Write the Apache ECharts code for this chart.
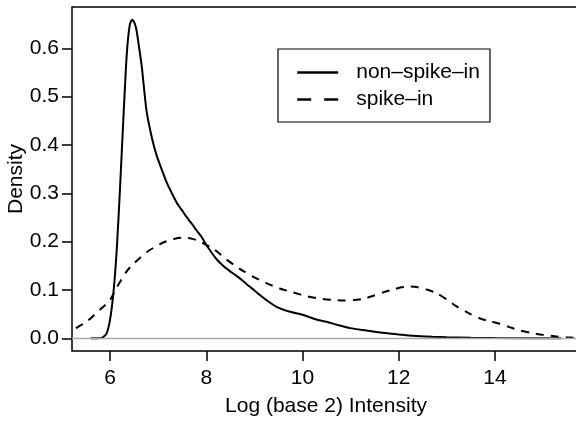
<!DOCTYPE html>
<html>
<head>
<meta charset="utf-8">
<script src="https://cdn.jsdelivr.net/npm/echarts@6/dist/echarts.min.js"></script>
<style>html,body{margin:0;padding:0;background:#fff}#chart{width:576px;height:424px}</style>
</head>
<body>
<div id="chart"></div>
<script>
// Data
var xTicks = [6, 8, 10, 12, 14];
var yTicks = [0, 0.1, 0.2, 0.3, 0.4, 0.5, 0.6];
var seriesNames = ['non\u2013spike\u2013in', 'spike\u2013in'];

var nonSpikeX = [5.60,5.75,5.85,5.93,6.00,6.07,6.14,6.21,6.28,6.35,6.41,6.46,6.51,6.55,6.60,6.66,6.76,6.87,6.97,7.08,7.18,7.29,7.39,7.50,7.59,7.70,7.80,7.90,8.01,8.12,8.22,8.35,8.49,8.63,8.77,8.90,9.00,9.12,9.25,9.46,9.70,10.02,10.25,10.50,10.75,10.99,11.33,11.61,12.00,12.30,12.70,13.00,13.50,14.00,15.37];
var nonSpikeY = [0.000,0.000,0.002,0.010,0.038,0.093,0.183,0.314,0.459,0.590,0.648,0.659,0.652,0.638,0.605,0.562,0.470,0.415,0.378,0.348,0.322,0.299,0.280,0.264,0.251,0.237,0.223,0.210,0.192,0.176,0.163,0.150,0.139,0.129,0.118,0.107,0.099,0.089,0.079,0.065,0.056,0.048,0.040,0.034,0.027,0.021,0.016,0.012,0.008,0.005,0.003,0.002,0.001,0.0005,0.000];

var spikeX = [5.00,5.21,5.36,5.51,5.65,5.79,5.90,6.00,6.14,6.35,6.50,6.62,6.76,6.90,7.04,7.18,7.35,7.52,7.66,7.80,7.97,8.15,8.30,8.42,8.56,8.77,8.98,9.25,9.53,9.80,10.09,10.36,10.64,10.85,11.06,11.27,11.47,11.68,11.89,12.03,12.20,12.37,12.58,12.79,13.00,13.20,13.45,13.69,13.90,14.10,14.30,14.52,14.75,15.00,15.25,15.49,15.80];
var spikeY = [0.010,0.017,0.025,0.034,0.046,0.059,0.069,0.079,0.105,0.139,0.155,0.166,0.178,0.187,0.195,0.201,0.206,0.208,0.207,0.203,0.195,0.185,0.173,0.163,0.153,0.139,0.127,0.114,0.103,0.095,0.087,0.082,0.079,0.078,0.079,0.082,0.088,0.095,0.101,0.105,0.107,0.106,0.101,0.093,0.080,0.066,0.052,0.041,0.035,0.030,0.023,0.016,0.011,0.007,0.004,0.002,0.0005];

function pairs(xs, ys) { return xs.map(function (x, i) { return [x, ys[i]]; }); }

var FONT = 'Liberation Sans, Arial, Helvetica, sans-serif';
var FS = 21;
var hiddenSymbol = {color: 'rgba(0,0,0,0)', borderWidth: 0, opacity: 0};

var chart = echarts.init(document.getElementById('chart'), null, {renderer: 'canvas'});
chart.setOption({
  animation: false,
  backgroundColor: '#fff',
  textStyle: {fontFamily: FONT},
  grid: {left: 72, top: 7, right: -4, bottom: 73, containLabel: false, outerBoundsMode: 'none',
    show: true, borderColor: '#000', borderWidth: 1.5, backgroundColor: 'transparent'},
  legend: {
    left: 278, top: 49,
    orient: 'vertical',
    borderColor: '#000', borderWidth: 1.2,
    padding: [13, 10, 12, 18],
    itemGap: 6,
    itemWidth: 41, itemHeight: 20,
    textStyle: {fontSize: FS, color: '#000', fontFamily: FONT, padding: [0, 0, 0, 13], lineHeight: 21},
    data: [
      {name: seriesNames[0], itemStyle: hiddenSymbol, lineStyle: {type: 'solid', width: 2.4, color: '#000'}},
      {name: seriesNames[1], itemStyle: hiddenSymbol, lineStyle: {type: [14, 13], width: 2.4, color: '#000'}}
    ]
  },
  xAxis: {
    type: 'value', min: 5.2105, max: 15.765,
    name: 'Log (base 2) Intensity', nameLocation: 'middle', nameGap: 45, nameMoveOverlap: false,
    nameTextStyle: {fontSize: FS, color: '#000', fontFamily: FONT},
    axisLine: {show: false, onZero: false},
    axisTick: {show: true, inside: false, length: 10, customValues: xTicks, lineStyle: {color: '#000', width: 1.5}},
    axisLabel: {show: true, customValues: xTicks, fontSize: FS, color: '#000', margin: 17, fontFamily: FONT},
    splitLine: {show: false}
  },
  yAxis: {
    type: 'value', min: -0.02636, max: 0.6855,
    name: 'Density', nameLocation: 'middle', nameGap: 45, nameMoveOverlap: false,
    nameTextStyle: {fontSize: FS, color: '#000', fontFamily: FONT},
    axisLine: {show: false, onZero: false},
    axisTick: {show: true, inside: false, length: 10, customValues: yTicks, lineStyle: {color: '#000', width: 1.5}},
    axisLabel: {show: true, customValues: yTicks, fontSize: FS, color: '#000', margin: 13, fontFamily: FONT,
      formatter: function (v) { return v.toFixed(1); }},
    splitLine: {show: false}
  },
  series: [
    {
      name: seriesNames[0], type: 'line', data: pairs(nonSpikeX, nonSpikeY),
      symbol: 'none', smooth: 0.25, clip: true,
      lineStyle: {color: '#000', width: 2, type: 'solid'}, itemStyle: {color: '#000'}
    },
    {
      name: seriesNames[1], type: 'line', data: pairs(spikeX, spikeY),
      symbol: 'none', smooth: 0.25, clip: true,
      lineStyle: {color: '#000', width: 2, type: [8, 7]}, itemStyle: {color: '#000'},
      markLine: {
        silent: true, symbol: 'none', label: {show: false},
        lineStyle: {color: '#aaaaaa', width: 1.3, type: 'solid'},
        data: [{yAxis: 0}]
      }
    }
  ]
});
</script>
</body>
</html>
